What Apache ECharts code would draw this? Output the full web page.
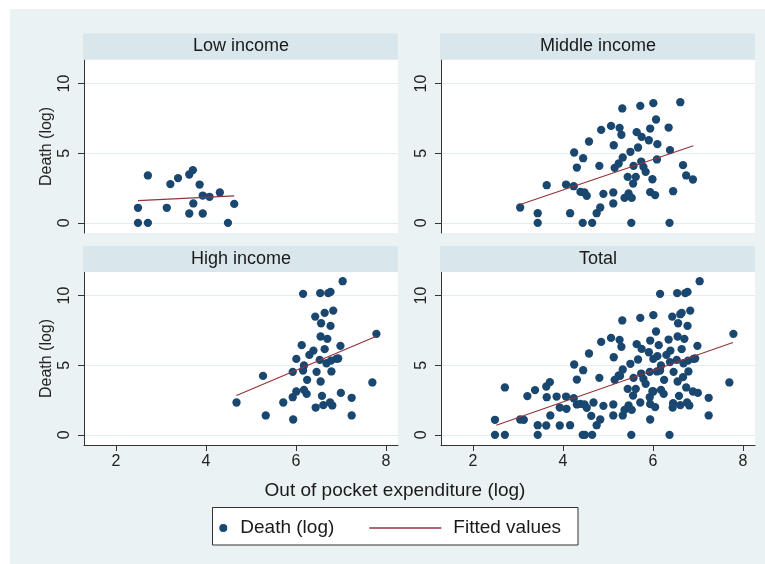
<!DOCTYPE html>
<html>
<head>
<meta charset="utf-8">
<script src="https://cdn.jsdelivr.net/npm/echarts@6/dist/echarts.min.js"></script>
<style>
html,body{margin:0;padding:0;background:#ffffff;}
#chart{width:765px;height:564px;}
</style>
</head>
<body>
<div id="chart"></div>
<script>
// ---------- data ----------
const panelTitles = ['Low income', 'Middle income', 'High income', 'Total'];
const xTicks = [2, 4, 6, 8];
const yTicks = [0, 5, 10];

const lowX = [2.49,2.49,2.71,2.71,3.13,3.21,3.38,3.63,3.71,3.63,3.72,3.86,3.93,3.93,4.08,4.31,4.49,4.63];
const lowY = [1.08,0,0,3.40,1.08,2.78,3.21,3.47,3.78,0.67,1.39,2.75,1.96,0.67,1.87,2.18,0,1.36];

const midX = [3.05,3.44,3.44,3.64,4.07,4.16,4.25,4.24,4.31,4.45,4.39,4.48,4.53,4.44,4.65,4.58,4.75,4.83,4.81,4.85,
  4.90,5.07,5.12,5.12,5.13,5.15,5.26,5.30,5.32,5.24,5.33,5.44,5.37,5.46,5.50,5.53,5.52,5.56,5.57,5.62,
  5.64,5.72,5.67,5.75,5.74,5.79,5.84,5.91,5.94,5.94,6.01,5.99,6.05,6.07,6.09,6.10,6.35,6.38,6.37,6.45,
  6.61,6.67,6.74,6.89];
const midY = [1.10,0.69,0,2.70,2.75,0.69,5.05,2.63,3.97,4.64,2.22,2.18,1.94,0,0,5.84,0.69,1.10,4.09,6.67,
  2.08,6.96,2.18,1.39,5.57,3.95,6.82,6.32,8.21,4.26,4.69,3.30,1.79,2.11,5.10,1.79,0,2.82,4.09,3.30,
  6.51,8.40,5.41,6.17,4.40,4.02,3.66,5.93,6.77,2.20,8.59,3.13,1.99,7.42,4.55,5.65,6.84,5.22,0,2.27,
  8.66,4.14,3.40,3.11];

const highX = [4.68,5.27,5.33,5.72,5.93,5.93,5.94,6.01,6.01,6.13,6.16,6.18,6.16,6.18,6.25,6.24,6.30,6.39,6.43,6.46,
  6.44,6.53,6.54,6.55,6.55,6.56,6.58,6.61,6.64,6.64,6.68,6.70,6.72,6.76,6.77,6.77,6.78,6.79,6.81,6.83,
  6.90,6.94,6.99,7.00,7.04,7.24,7.24,7.70,7.79];
const highY = [2.32,4.23,1.39,2.32,4.52,2.70,1.10,5.45,3.11,6.44,10.12,4.98,4.62,3.23,3.95,2.94,5.74,6.05,8.49,4.52,
  1.96,5.38,10.17,7.06,3.83,8.01,2.80,2.13,6.15,8.76,5.14,6.89,10.17,2.32,10.26,7.82,5.33,4.55,2.11,8.92,
  5.45,5.48,6.39,3.01,11.03,2.66,1.39,3.76,7.25];

const lowFitX = [2.49, 4.63],  lowFitY = [1.60, 1.94];
const midFitX = [3.05, 6.90],  midFitY = [1.32, 5.53];
const highFitX = [4.68, 7.79], highFitY = [2.82, 7.08];
const totFitX = [2.52, 7.78],  totFitY = [0.69, 6.63];

// ---------- build ----------
const pairs = (xs, ys) => xs.map((x, i) => [x, ys[i]]);
const totX = lowX.concat(midX, highX);
const totY = lowY.concat(midY, highY);
const scatterSets = [pairs(lowX, lowY), pairs(midX, midY), pairs(highX, highY), pairs(totX, totY)];
const fitSets = [pairs(lowFitX, lowFitY), pairs(midFitX, midFitY), pairs(highFitX, highFitY), pairs(totFitX, totFitY)];

const FONT = 'Liberation Sans, Arial, Helvetica, sans-serif';
const BG = '#eaf2f3', STRIP = '#d9e6eb', NAVY = '#1a476f', MAROON = '#90353b', AX = '#333333';

const grids = [
  {left: 84,  top: 60,  width: 314, height: 173},
  {left: 441, top: 60,  width: 314, height: 173},
  {left: 84,  top: 272, width: 314, height: 173},
  {left: 441, top: 272, width: 314, height: 173}
];

const xAxes = grids.map((g, i) => {
  const bottom = i >= 2;
  return {
    gridIndex: i, type: 'value', min: 1.29, max: 8.27,
    axisLine: {show: bottom, onZero: false, lineStyle: {color: AX, width: 1}},
    axisTick: {show: bottom, length: 6, customValues: xTicks, lineStyle: {color: AX}},
    axisLabel: {show: bottom, customValues: xTicks, margin: 9, fontSize: 16, lineHeight: 16, color: '#222', fontFamily: FONT},
    splitLine: {show: false}
  };
});

const yAxes = grids.map((g, i) => {
  const left = (i % 2 === 0);
  return {
    gridIndex: i, type: 'value', min: -0.73, max: 11.69,
    name: left ? 'Death (log)' : '', nameLocation: 'middle', nameGap: 29,
    nameTextStyle: {fontSize: 16, color: '#222', fontFamily: FONT},
    axisLine: {show: true, onZero: false, lineStyle: {color: AX, width: 1}},
    axisTick: {show: true, length: 6, customValues: yTicks, lineStyle: {color: AX}},
    axisLabel: {customValues: yTicks, rotate: 90, margin: 11, fontSize: 16, lineHeight: 16, color: '#222', fontFamily: FONT},
    splitLine: {show: true, lineStyle: {color: '#e3ecef', width: 1}}
  };
});

const series = [];
scatterSets.forEach((d, i) => {
  series.push({name: 'Death (log)', type: 'scatter', xAxisIndex: i, yAxisIndex: i, data: d,
    symbol: 'circle', symbolSize: 8.3, itemStyle: {color: NAVY, opacity: 1}});
});
fitSets.forEach((d, i) => {
  series.push({name: 'Fitted values', type: 'line', xAxisIndex: i, yAxisIndex: i, data: d,
    symbol: 'none', lineStyle: {color: MAROON, width: 1.2}, itemStyle: {color: MAROON}, z: 5});
});

const graphics = [
  {type: 'rect', z: -100, shape: {x: 10, y: 9, width: 755, height: 555}, style: {fill: BG}}
];
grids.forEach((g, i) => {
  const top = (i < 2) ? 33.5 : 246;
  graphics.push({type: 'rect', z: 1, shape: {x: g.left - 1, y: top, width: g.width + 1, height: 26}, style: {fill: STRIP}});
  graphics.push({type: 'text', z: 2, x: g.left + g.width / 2, y: top + 13,
    style: {text: panelTitles[i], font: '18px ' + FONT, fill: '#1a1a1a', textAlign: 'center', textVerticalAlign: 'middle'}});
});
graphics.push({type: 'text', z: 2, x: 395, y: 491,
  style: {text: 'Out of pocket expenditure (log)', font: '19px ' + FONT, fill: '#1a1a1a', textAlign: 'center', textVerticalAlign: 'middle'}});
graphics.push({type: 'rect', z: 1, shape: {x: 212.5, y: 507.5, width: 365.5, height: 37.5},
  style: {fill: '#ffffff', stroke: '#333333', lineWidth: 1}});

const option = {
  animation: false,
  backgroundColor: 'transparent',
  graphic: graphics,
  grid: grids.map(g => Object.assign({show: true, backgroundColor: '#ffffff', borderWidth: 0, containLabel: false}, g)),
  xAxis: xAxes,
  yAxis: yAxes,
  legend: [
    {data: [{name: 'Death (log)', icon: 'circle'}], left: 219.3, top: 517, padding: 0, itemWidth: 8, itemHeight: 8,
      selectedMode: false, textStyle: {fontSize: 19, lineHeight: 22, color: '#1a1a1a', fontFamily: FONT, padding: [0, 0, 0, 8]}},
    {data: [{name: 'Fitted values', icon: 'rect', itemStyle: {color: MAROON}}], left: 369.3, top: 517, padding: 0,
      itemWidth: 72, itemHeight: 1.3, symbolKeepAspect: false,
      selectedMode: false, textStyle: {fontSize: 19, lineHeight: 22, color: '#1a1a1a', fontFamily: FONT, padding: [0, 0, 0, 7]}}
  ],
  series: series
};

const chart = echarts.init(document.getElementById('chart'));
chart.setOption(option);
</script>
</body>
</html>
